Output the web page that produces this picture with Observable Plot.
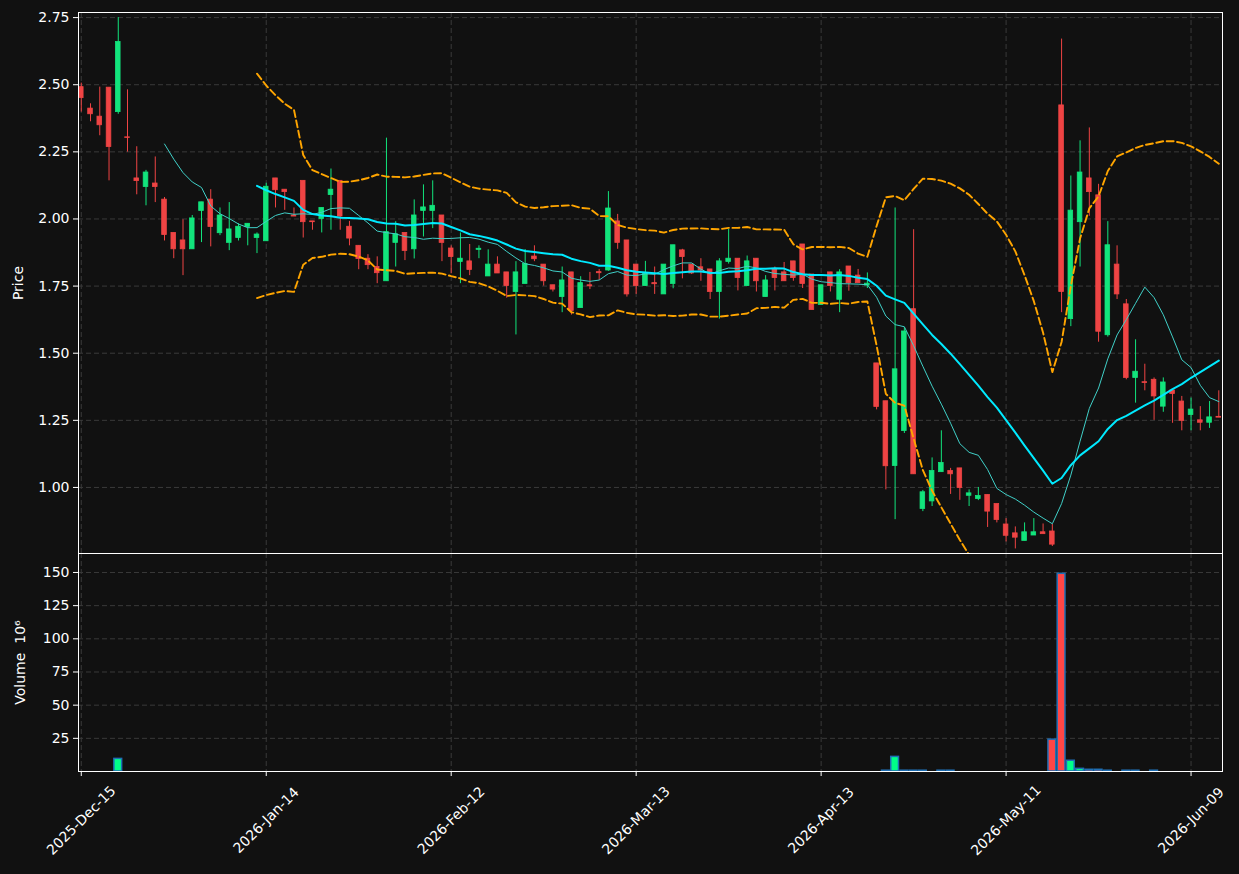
<!DOCTYPE html>
<html><head><meta charset="utf-8">
<script src="https://cdn.jsdelivr.net/npm/d3@7"></script>
<script src="https://cdn.jsdelivr.net/npm/@observablehq/plot@0.6"></script>
<style>
html,body{margin:0;padding:0;background:#111111;}
#wrap{position:relative;width:1239px;height:874px;background:#111111;overflow:hidden;}
#wrap svg{position:absolute;left:0;top:0;}
</style></head><body><div id="wrap"></div>
<script>
// ---- data ----
const openP = [2.491,2.411,2.381,2.489,2.398,2.304,2.151,2.119,2.132,2.072,
1.948,1.920,1.887,2.030,2.072,1.947,1.911,1.929,1.970,1.929,
1.917,2.151,2.109,2.013,2.142,1.991,2.000,2.089,2.142,1.971,
1.900,1.852,1.821,1.768,1.911,1.948,1.887,2.030,2.030,2.013,
1.890,1.840,1.842,1.885,1.786,1.830,1.801,1.728,1.758,1.860,
1.830,1.753,1.709,1.801,1.668,1.753,1.802,1.808,1.991,1.920,
1.830,1.750,1.761,1.719,1.758,1.883,1.830,1.820,1.812,1.728,
1.840,1.852,1.750,1.852,1.709,1.812,1.801,1.842,1.905,1.793,
1.680,1.801,1.699,1.823,1.789,1.752,1.462,1.321,1.080,1.210,
1.664,0.920,0.948,1.057,1.061,1.071,0.969,0.957,0.972,0.938,
0.862,0.829,0.801,0.821,0.833,0.836,2.423,1.627,1.988,2.151,
2.088,1.567,1.830,1.682,1.408,1.392,1.401,1.301,1.361,1.320,
1.270,1.250,1.241,1.263];
const highP = [2.506,2.429,2.491,2.489,2.750,2.481,2.269,2.181,2.231,2.080,
1.948,1.997,2.013,2.062,2.109,2.041,2.061,1.982,1.982,1.948,
2.133,2.151,2.109,2.041,2.142,1.991,2.041,2.186,2.142,1.991,
1.900,1.867,1.859,2.301,1.990,1.948,2.071,2.127,2.142,2.013,
1.900,1.948,1.905,1.900,1.885,1.859,1.801,1.841,1.886,1.900,
1.830,1.753,1.821,1.801,1.785,1.801,1.812,2.102,2.017,1.920,
1.830,1.842,1.821,1.830,1.902,1.887,1.830,1.852,1.812,1.852,
1.961,1.852,1.862,1.852,1.789,1.821,1.838,1.842,1.905,1.793,
1.753,1.801,1.811,1.823,1.812,1.799,1.462,1.321,2.041,1.595,
1.960,0.989,1.110,1.211,1.071,1.071,0.991,1.000,0.972,0.938,
0.884,0.853,0.868,0.884,0.864,0.862,2.670,2.160,2.291,2.339,
2.129,1.990,1.900,1.700,1.550,1.459,1.408,1.408,1.361,1.339,
1.333,1.301,1.320,1.360];
const lowP = [2.398,2.362,2.310,2.142,2.390,2.249,2.090,2.049,2.061,1.918,
1.852,1.789,1.887,1.912,1.896,1.938,1.882,1.918,1.900,1.871,
1.917,2.041,2.032,2.009,1.929,1.958,1.948,1.958,1.958,1.900,
1.811,1.811,1.759,1.768,1.821,1.845,1.851,1.933,1.964,1.841,
1.796,1.759,1.789,1.852,1.786,1.797,1.705,1.568,1.758,1.841,
1.750,1.728,1.651,1.642,1.668,1.737,1.771,1.805,1.887,1.709,
1.719,1.750,1.719,1.719,1.740,1.777,1.793,1.768,1.700,1.627,
1.832,1.732,1.750,1.728,1.709,1.732,1.768,1.768,1.741,1.661,
1.680,1.728,1.651,1.731,1.761,1.741,1.289,0.991,0.880,1.201,
1.049,0.910,0.929,1.057,0.974,0.952,0.929,0.951,0.851,0.868,
0.797,0.771,0.801,0.821,0.826,0.780,1.651,1.599,1.821,2.010,
1.541,1.560,1.700,1.401,1.314,1.360,1.250,1.280,1.239,1.211,
1.211,1.211,1.220,1.260];
const closeP = [2.450,2.390,2.349,2.268,2.659,2.302,2.141,2.173,2.119,1.940,
1.887,1.887,2.002,2.062,1.970,2.013,1.961,1.971,1.982,1.942,
2.120,2.107,2.100,2.009,1.988,1.988,2.041,2.109,2.009,1.927,
1.851,1.828,1.798,1.951,1.943,1.881,2.013,2.043,2.049,1.911,
1.858,1.852,1.810,1.889,1.830,1.797,1.750,1.801,1.832,1.850,
1.768,1.737,1.771,1.657,1.761,1.749,1.798,2.039,1.911,1.719,
1.750,1.799,1.757,1.830,1.902,1.858,1.797,1.808,1.728,1.842,
1.852,1.780,1.842,1.768,1.771,1.780,1.768,1.780,1.758,1.661,
1.753,1.750,1.801,1.761,1.761,1.759,1.300,1.079,1.440,1.581,
1.049,0.982,1.061,1.091,1.049,0.998,0.978,0.968,0.910,0.879,
0.820,0.813,0.833,0.833,0.826,0.787,1.728,2.031,2.173,2.100,
1.580,1.902,1.719,1.408,1.431,1.389,1.339,1.391,1.348,1.248,
1.290,1.241,1.261,1.260];
// volume in millions
const volume = [0,0,0,0,9.5,0,0,0,0,0,
0,0,0,0,0,0,0,0,0,0,
0,0,0,0,0,0,0,0,0,0,
0,0,0,0,0,0,0,0,0,0,
0,0,0,0,0,0,0,0,0,0,
0,0,0,0,0,0,0,0,0,0,
0,0,0,0,0,0,0,0,0,0,
0,0,0,0,0,0,0,0,0,0,
0,0,0,0,0,0,0,0.6,11,0.6,
0.6,0.6,0,0.6,0.6,0,0,0,0,0,
0,0,0,0,0,24,149,8.1,2.0,1.3,
1.3,0.6,0,0.6,0.6,0,0.6,0,0,0,
0,0,0,0];
const tickIndex = [0,20,40,60,80,100,120];
const tickLabels = ["2025-Dec-15","2026-Jan-14","2026-Feb-12","2026-Mar-13","2026-Apr-13","2026-May-11","2026-Jun-09"];
const priceTicks = [1.00,1.25,1.50,1.75,2.00,2.25,2.50,2.75];
const volumeTicks = [25,50,75,100,125,150];

// ---- derived indicators (rolling mean / bollinger from closes) ----
function sma(arr, n){
  return arr.map((_, i) => i < n - 1 ? null : d3.mean(arr.slice(i - n + 1, i + 1)));
}
function pstd(arr, n){
  return arr.map((_, i) => {
    if (i < n - 1) return null;
    const w = arr.slice(i - n + 1, i + 1), m = d3.mean(w);
    return Math.sqrt(d3.mean(w, v => (v - m) * (v - m)));
  });
}
const ma10 = sma(closeP, 10);
const ma20 = sma(closeP, 20);
const sd20 = pstd(closeP, 20);

const rows = closeP.map((c, i) => ({i, o: openP[i], h: highP[i], l: lowP[i], c, v: volume[i], up: c >= openP[i]}));
const ind = rows.map(r => ({i: r.i, ma10: ma10[r.i], ma20: ma20[r.i],
  upper: ma20[r.i] == null ? null : ma20[r.i] + 2 * sd20[r.i],
  lower: ma20[r.i] == null ? null : ma20[r.i] - 2 * sd20[r.i]}));

const UP = "#12e47c", DOWN = "#ef4444";
const VUP = "#00ff88", VDOWN = "#ff4646", VEDGE = "#1f6fb4";
const GRID = "#3a3a3a";
const W = 1239, H = 874;
const xScale = {domain: [-0.3, 123.4]};
const font = "'DejaVu Sans', sans-serif";
const FS = 14;

const upRows = rows.filter(r => r.up), dnRows = rows.filter(r => !r.up);
const bodyOpts = {x1: d => d.i - 0.25, x2: d => d.i + 0.25, y1: d => Math.min(d.o, d.c), y2: d => Math.max(d.o, d.c), strokeWidth: 0.8};

const price = Plot.plot({
  width: W, height: H,
  marginTop: 12, marginBottom: H - 553, marginLeft: 78, marginRight: W - 1222,
  style: {background: "transparent", color: "white", fontFamily: font, fontSize: FS + "px"},
  x: {...xScale, axis: null},
  y: {domain: [0.754, 2.769], label: null},
  marks: [
    Plot.gridX({ticks: tickIndex, stroke: GRID, strokeOpacity: 1, strokeDasharray: "5,3"}),
    Plot.gridY({ticks: priceTicks, stroke: GRID, strokeOpacity: 1, strokeDasharray: "5,3"}),
    Plot.ruleX(upRows, {x: "i", y1: "l", y2: "h", stroke: UP, strokeWidth: 1, clip: true}),
    Plot.ruleX(dnRows, {x: "i", y1: "l", y2: "h", stroke: DOWN, strokeWidth: 1, clip: true}),
    Plot.rect(upRows, {...bodyOpts, fill: UP, stroke: UP, clip: true}),
    Plot.rect(dnRows, {...bodyOpts, fill: DOWN, stroke: DOWN, clip: true}),
    Plot.line(ind.filter(d => d.upper != null), {x: "i", y: "upper", stroke: "#ffa500", strokeWidth: 1.9, strokeDasharray: "7,3.5", clip: true}),
    Plot.line(ind.filter(d => d.lower != null), {x: "i", y: "lower", stroke: "#ffa500", strokeWidth: 1.9, strokeDasharray: "7,3.5", clip: true}),
    Plot.line(ind.filter(d => d.ma10 != null), {x: "i", y: "ma10", stroke: "#40d0c8", strokeWidth: 1, clip: true}),
    Plot.line(ind.filter(d => d.ma20 != null), {x: "i", y: "ma20", stroke: "#00eaff", strokeWidth: 2, clip: true}),
    Plot.axisY({ticks: priceTicks, tickFormat: d3.format(".2f"), tickSize: 5, tickPadding: 4, label: null, fontSize: FS}),
    Plot.text(["Price"], {text: d => d, frameAnchor: "left", dx: -60, rotate: -90, fill: "white", fontSize: FS, textAnchor: "middle", lineAnchor: "middle"}),
    Plot.frame({stroke: "white", strokeWidth: 1})
  ]
});

const vrows = rows.filter(r => r.v > 0);
const volOpts = {x1: d => d.i - 0.42, x2: d => d.i + 0.42, y1: 0, y2: "v", stroke: VEDGE, strokeWidth: 1.5};
const vol = Plot.plot({
  width: W, height: H,
  marginTop: 553, marginBottom: H - 771, marginLeft: 78, marginRight: W - 1222,
  style: {background: "transparent", color: "white", fontFamily: font, fontSize: FS + "px"},
  x: {...xScale},
  y: {domain: [0, 164.3], label: null},
  marks: [
    Plot.gridX({ticks: tickIndex, stroke: GRID, strokeOpacity: 1, strokeDasharray: "5,3"}),
    Plot.gridY({ticks: volumeTicks, stroke: GRID, strokeOpacity: 1, strokeDasharray: "5,3"}),
    Plot.rect(vrows.filter(r => r.up), {...volOpts, fill: VUP}),
    Plot.rect(vrows.filter(r => !r.up), {...volOpts, fill: VDOWN}),
    Plot.axisY({ticks: volumeTicks, tickSize: 5, tickPadding: 4, label: null, fontSize: FS}),
    Plot.axisX({ticks: tickIndex, tickSize: 5, tickFormat: () => "", label: null}),
    Plot.text(tickIndex, {x: d => d, text: (d, k) => tickLabels[k], frameAnchor: "bottom", dy: 49, rotate: -45, fill: "white", fontSize: FS, textAnchor: "middle", lineAnchor: "middle"}),
    Plot.text(["Volume  10⁶"], {text: d => d, frameAnchor: "left", dx: -58, rotate: -90, fill: "white", fontSize: FS, textAnchor: "middle", lineAnchor: "middle"}),
    Plot.frame({stroke: "white", strokeWidth: 1})
  ]
});

const wrap = document.getElementById("wrap");
wrap.appendChild(price);
wrap.appendChild(vol);
</script>
</body></html>
